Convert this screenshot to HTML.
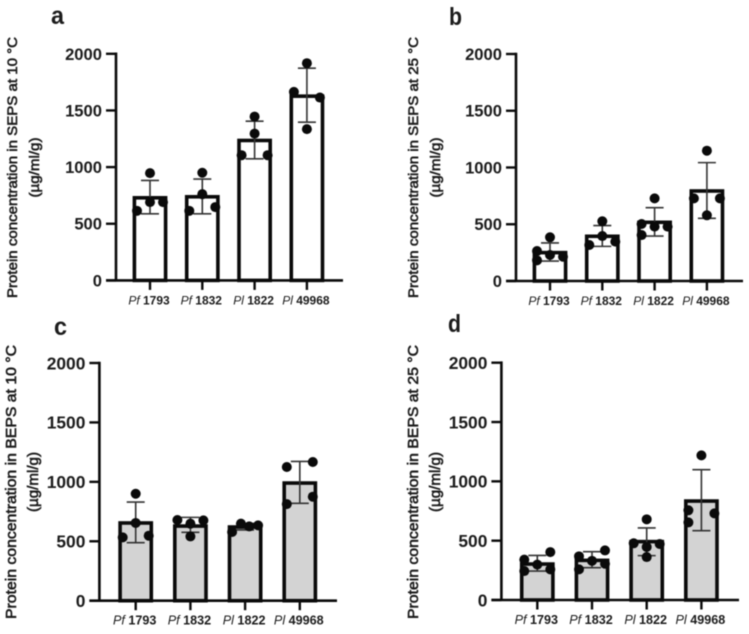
<!DOCTYPE html>
<html lang="en">
<head>
<meta charset="utf-8">
<title>Protein concentration in SEPS and BEPS</title>
<style>
html,body{margin:0;padding:0;background:#fff;}
#figure{display:block;width:749px;height:634px;filter:blur(0.45px);}
text{font-family:"Liberation Sans",Arial,sans-serif;fill:#1c1c1c;}
</style>
</head>
<body>
<svg id="figure" xmlns="http://www.w3.org/2000/svg" width="749" height="634" viewBox="0 0 749 634"></svg>
<script>
// Shared category labels and axis ticks
const strainPrefixes = ['Pf', 'Pf', 'Pl', 'Pl'];
const strainNumbers = ['1793', '1832', '1822', '49968'];
const yTicks = [0, 500, 1000, 1500, 2000];

// Panel a
const meansA = [729, 738, 1235, 1626];
const errHighA = [882, 894, 1405, 1873];
const errLowA = [588, 588, 1073, 1396];
const pointsA = [[614, 947, 691, 691], [614, 950, 761, 647], [1105, 1446, 1296, 1105], [1664, 1917, 1335, 1614]];
const slotsA = [[-1, 0, 0, 1], [-1, 0, 0, 1], [-1, 0, 0, 1], [-1, 0, 0, 1]];

// Panel b
const meansB = [250, 394, 517, 793];
const errHighB = [335, 488, 646, 1043];
const errLowB = [176, 305, 396, 552];
const pointsB = [[264, 182, 385, 229, 214], [317, 526, 396, 347], [502, 405, 728, 479, 479], [728, 1148, 579, 728]];
const slotsB = [[-1, -1, 0, 0, 1], [-1, 0, 0, 1], [-1, -1, 0, 0, 1], [-1, 0, 0, 1]];

// Panel c
const meansC = [654, 628, 620, 990];
const errHighC = [830, 701, 650, 1172];
const errLowC = [488, 575, 595, 819];
const pointsC = [[533, 900, 654, 547], [679, 648, 541, 676], [578, 648, 625, 634], [813, 1125, 1167, 875]];
const slotsC = [[-1, 0, 0, 1], [-1, 0, 0, 1], [-1, -0.32, 0.32, 1], [-1, -1, 1, 1]];

// Panel d
const meansD = [303, 334, 492, 834];
const errHighD = [376, 407, 607, 1098];
const errLowD = [244, 272, 374, 584];
const pointsD = [[340, 244, 298, 404, 258], [368, 258, 330, 418, 306], [478, 680, 447, 362, 472], [756, 654, 1219, 730]];
const slotsD = [[-1, -1, 0, 1, 1], [-1, -1, 0, 1, 1], [-1, 0, 0, 0, 1], [-1, -1, 0, 1]];

const yMax = 2000;
const svgNS = 'http://www.w3.org/2000/svg';
const figure = document.getElementById('figure');

function make(parent, tag, attrs) {
  const el = document.createElementNS(svgNS, tag);
  for (const k in attrs) el.setAttribute(k, attrs[k]);
  parent.appendChild(el);
  return el;
}

function drawPanel(cfg) {
  const g = make(figure, 'g', {});
  
  

  const yScale = v => cfg.y0 + (cfg.yTop - cfg.y0) * v / yMax;
  const xScale = i => cfg.xFirst + i * cfg.xStep;

  const letter = make(g, 'text', {x: cfg.letterX, y: cfg.letterY, 'font-size': 25, 'font-weight': 700, textLength: 13, lengthAdjust: 'spacingAndGlyphs'});
  letter.textContent = cfg.letter;
  
  

  const mid = (cfg.titleStart + cfg.titleEnd) / 2;
  const title = make(g, 'text', {
    transform: 'translate(' + cfg.titleX + ',' + mid + ') rotate(-90)',
    'text-anchor': 'middle', 'font-size': cfg.titleSize, 'font-weight': 400,
    stroke: '#1c1c1c', 'stroke-width': 0.6,
    textLength: cfg.titleStart - cfg.titleEnd, lengthAdjust: 'spacingAndGlyphs'
  });
  title.textContent = cfg.title;
  
  

  const unit = make(g, 'text', {
    transform: 'translate(' + (cfg.titleX + 22) + ',' + mid + ') rotate(-90)',
    'text-anchor': 'middle', 'font-size': cfg.titleSize, 'font-weight': 400,
    stroke: '#1c1c1c', 'stroke-width': 0.6,
    textLength: 60, lengthAdjust: 'spacingAndGlyphs'
  });
  unit.textContent = '(µg/ml/g)';
  
  

  cfg.means.forEach(function (m, i) {
    const bar = make(g, 'rect', {
      x: xScale(i) - 15.6, y: yScale(m), width: 31.2, height: cfg.y0 - yScale(m),
      fill: cfg.fill, stroke: '#0a0a0a', 'stroke-width': 3.6
    });
    
    
  });

  cfg.means.forEach(function (m, i) {
    const cx = xScale(i);
    const hi = yScale(cfg.errHigh[i]);
    const lo = yScale(cfg.errLow[i]);
    const err = make(g, 'path', {
      d: 'M' + cx + ' ' + hi + 'V' + lo + 'M' + (cx - 9) + ' ' + hi + 'H' + (cx + 9) + 'M' + (cx - 9) + ' ' + lo + 'H' + (cx + 9),
      fill: 'none', stroke: '#333', 'stroke-width': 1.6
    });
    
    
  });

  cfg.points.forEach(function (vals, i) {
    vals.forEach(function (v, j) {
      const dot = make(g, 'circle', {
        cx: xScale(i) + cfg.slots[i][j] * 13, cy: yScale(v), r: 5, fill: '#0a0a0a'
      });
      
      
    });
  });

  const axes = make(g, 'path', {
    d: 'M' + cfg.xAxis + ' ' + (cfg.yTop - 1.3) + 'V' + (cfg.y0 + 1.3) + 'M' + (cfg.xAxis - 10) + ' ' + cfg.y0 + 'H' + cfg.xEnd,
    fill: 'none', stroke: '#0a0a0a', 'stroke-width': 2.6
  });
  
  

  yTicks.forEach(function (t) {
    const y = yScale(t);
    const tick = make(g, 'line', {x1: cfg.xAxis - 10, x2: cfg.xAxis, y1: y, y2: y, stroke: '#0a0a0a', 'stroke-width': 2.4});
    
    
    const label = make(g, 'text', {
      x: cfg.xAxis - 14, y: y + cfg.tickSize * 0.36, 'text-anchor': 'end',
      'font-size': cfg.tickSize, 'font-weight': 700
    });
    label.textContent = String(t);
    
    
  });

  strainNumbers.forEach(function (num, i) {
    const x = xScale(i);
    const tick = make(g, 'line', {x1: x, x2: x, y1: cfg.y0, y2: cfg.y0 + 9.5, stroke: '#0a0a0a', 'stroke-width': 2.4});
    
    
    const label = make(g, 'text', {
      x: x - 1, y: cfg.y0 + cfg.catOffset, 'text-anchor': 'middle', 'font-size': cfg.catSize, 'font-weight': 700
    });
    
    
    const pre = make(label, 'tspan', {'font-style': 'italic', 'font-weight': 400});
    pre.textContent = strainPrefixes[i];
    const rest = make(label, 'tspan', {});
    rest.textContent = ' ' + num;
  });
}

drawPanel({letter: 'a', letterX: 51, letterY: 24, title: 'Protein concentration in SEPS at 10 °C', titleX: 17, titleStart: 298, titleEnd: 37, titleSize: 14.2,
  xAxis: 116, xEnd: 343, y0: 280.4, yTop: 53.8, xFirst: 150, xStep: 52.3, tickSize: 16.6, catSize: 12, catOffset: 24,
  fill: '#ffffff', means: meansA, errHigh: errHighA, errLow: errLowA, points: pointsA, slots: slotsA});

drawPanel({letter: 'b', letterX: 449, letterY: 25, title: 'Protein concentration in SEPS at 25 °C', titleX: 418, titleStart: 298, titleEnd: 37, titleSize: 14.2,
  xAxis: 516, xEnd: 743, y0: 281, yTop: 54, xFirst: 550, xStep: 52.3, tickSize: 16.6, catSize: 12, catOffset: 24,
  fill: '#ffffff', means: meansB, errHigh: errHighB, errLow: errLowB, points: pointsB, slots: slotsB});

drawPanel({letter: 'c', letterX: 54, letterY: 335, title: 'Protein concentration in BEPS at 10 °C', titleX: 16, titleStart: 619, titleEnd: 345, titleSize: 14.8,
  xAxis: 99.4, xEnd: 337, y0: 600.7, yTop: 363, xFirst: 135.7, xStep: 54.7, tickSize: 17.4, catSize: 12.6, catOffset: 24,
  fill: '#d3d3d3', means: meansC, errHigh: errHighC, errLow: errLowC, points: pointsC, slots: slotsC});

drawPanel({letter: 'd', letterX: 448, letterY: 332, title: 'Protein concentration in BEPS at 25 °C', titleX: 418, titleStart: 619, titleEnd: 345, titleSize: 14.8,
  xAxis: 501.4, xEnd: 739, y0: 600, yTop: 362.7, xFirst: 537.3, xStep: 54.7, tickSize: 17.4, catSize: 12.6, catOffset: 24,
  fill: '#d3d3d3', means: meansD, errHigh: errHighD, errLow: errLowD, points: pointsD, slots: slotsD});
</script>
</body>
</html>
